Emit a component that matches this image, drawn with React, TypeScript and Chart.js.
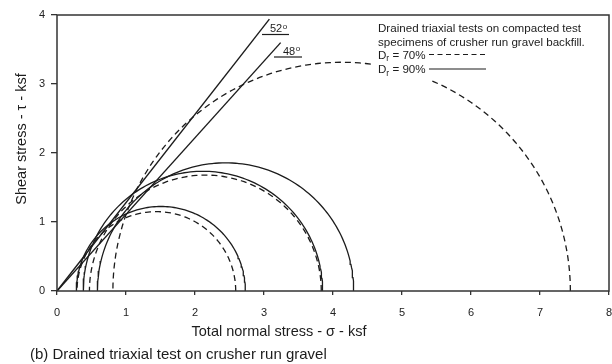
import React, { useEffect, useRef } from "react";
import { Chart, registerables } from "chart.js";
Chart.register(...registerables);

// ---- data ----
const xTickValues = [0, 1, 2, 3, 4, 5, 6, 7, 8];
const yTickValues = [0, 1, 2, 3, 4];
// Mohr circles: minor (sigma3) and major (sigma1) principal stresses, ksf
const dr70Sigma3 = [0.29, 0.47, 0.81];
const dr70Sigma1 = [2.59, 3.83, 7.44];
const dr90Sigma3 = [0.28, 0.38, 0.585];
const dr90Sigma1 = [2.73, 3.85, 4.3];
// failure envelopes (through origin): friction angle and tau at line end
const envelopeAngles = [52, 48];
const envelopeEndTau = [3.94, 3.6];
const angleLabels = ["52", "48"];
const noteLines = [
  "Drained triaxial tests on compacted test",
  "specimens of crusher run gravel backfill.",
];
const legendValues = ["70%", "90%"];
const xTitle = "Total normal stress - σ - ksf";
const yTitle = "Shear stress - τ - ksf";
const caption = "(b) Drained triaxial test on crusher run gravel";

const FONT = '"Liberation Sans", Arial, Helvetica, sans-serif';
const INK = "#1c1c1c";

function semicircle(s3: number, s1: number) {
  const c = (s1 + s3) / 2;
  const r = (s1 - s3) / 2;
  const pts: { x: number; y: number }[] = [];
  const n = 120;
  for (let i = 0; i <= n; i++) {
    const t = (Math.PI * i) / n;
    pts.push({ x: c + r * Math.cos(t), y: r * Math.sin(t) });
  }
  return pts;
}

const annotPlugin = {
  id: "annot",
  afterDraw(chart: any) {
    const { ctx, chartArea: a } = chart;
    ctx.save();
    // white box behind the note (interrupts the large circle)
    ctx.fillStyle = "#fff";
    ctx.fillRect(373, 18, 228, 62);

    // frame
    ctx.strokeStyle = "#333";
    ctx.lineWidth = 1.5;
    ctx.strokeRect(a.left, a.top, a.right - a.left, a.bottom - a.top);

    ctx.fillStyle = INK;
    ctx.strokeStyle = INK;
    ctx.lineWidth = 1.2;
    ctx.textBaseline = "alphabetic";

    // angle labels
    const angPos = [
      { x: 270, y: 32, ux0: 262, ux1: 289, uy: 34.5 },
      { x: 283, y: 54.5, ux0: 274, ux1: 302, uy: 57 },
    ];
    angleLabels.forEach((lab, i) => {
      const p = angPos[i];
      ctx.font = `11px ${FONT}`;
      ctx.textAlign = "left";
      ctx.fillText(lab, p.x, p.y);
      const w = ctx.measureText(lab).width;
      ctx.font = `8px ${FONT}`;
      ctx.fillText("o", p.x + w + 0.5, p.y - 3.5);
      ctx.beginPath();
      ctx.moveTo(p.ux0, p.uy);
      ctx.lineTo(p.ux1, p.uy);
      ctx.stroke();
    });

    // note
    ctx.font = `11.6px ${FONT}`;
    ctx.textAlign = "left";
    ctx.fillText(noteLines[0], 378, 31.5);
    ctx.fillText(noteLines[1], 378, 45.5);
    const legY = [58.5, 73];
    const lineY = [54.5, 69];
    legendValues.forEach((v, i) => {
      ctx.font = `11.6px ${FONT}`;
      ctx.fillText("D", 378, legY[i]);
      const wd = ctx.measureText("D").width;
      ctx.font = `8.5px ${FONT}`;
      ctx.fillText("r", 378 + wd, legY[i] + 2.5);
      const wr = ctx.measureText("r").width;
      ctx.font = `11.6px ${FONT}`;
      ctx.fillText(" = " + v, 378 + wd + wr, legY[i]);
      ctx.beginPath();
      ctx.lineWidth = 1.2;
      ctx.setLineDash(i === 0 ? [5, 3.5] : []);
      ctx.moveTo(429, lineY[i]);
      ctx.lineTo(486, lineY[i]);
      ctx.stroke();
      ctx.setLineDash([]);
    });

    // axis titles
    ctx.font = `14.5px ${FONT}`;
    ctx.textAlign = "center";
    ctx.textBaseline = "middle";
    ctx.fillText(xTitle, 279, 332);
    ctx.save();
    ctx.translate(22, 139);
    ctx.rotate(-Math.PI / 2);
    ctx.fillText(yTitle, 0, 0);
    ctx.restore();

    // caption
    ctx.font = `15px ${FONT}`;
    ctx.textAlign = "left";
    ctx.fillText(caption, 30, 355);
    ctx.restore();
  },
};

export default function App() {
  const ref = useRef<HTMLCanvasElement | null>(null);
  useEffect(() => {
    if (!ref.current) return;
    const datasets: any[] = [];
    dr70Sigma3.forEach((s3, i) => {
      datasets.push({
        label: "Dr = 70%",
        data: semicircle(s3, dr70Sigma1[i]),
        showLine: true,
        borderColor: INK,
        borderWidth: 1.3,
        borderDash: [6, 4],
        pointRadius: 0,
        fill: false,
      });
    });
    dr90Sigma3.forEach((s3, i) => {
      datasets.push({
        label: "Dr = 90%",
        data: semicircle(s3, dr90Sigma1[i]),
        showLine: true,
        borderColor: INK,
        borderWidth: 1.3,
        pointRadius: 0,
        fill: false,
      });
    });
    envelopeAngles.forEach((ang, i) => {
      const tau = envelopeEndTau[i];
      datasets.push({
        label: ang + "°",
        data: [
          { x: 0, y: 0 },
          { x: tau / Math.tan((ang * Math.PI) / 180), y: tau },
        ],
        showLine: true,
        borderColor: INK,
        borderWidth: 1.4,
        pointRadius: 0,
        fill: false,
      });
    });

    const chart = new Chart(ref.current, {
      type: "scatter",
      data: { datasets },
      options: {
        animation: false,
        responsive: true,
        maintainAspectRatio: false,
        layout: { padding: { left: 0, top: 15, right: 3, bottom: 0 } },
        plugins: {
          legend: { display: false },
          tooltip: { enabled: false },
        },
        scales: {
          x: {
            type: "linear",
            min: 0,
            max: 8,
            afterFit: (s: any) => {
              s.height = 73;
              s.paddingLeft = 0;
              s.paddingRight = 0;
            },
            afterBuildTicks: (s: any) => {
              s.ticks = xTickValues.map((v) => ({ value: v }));
            },
            border: { display: false },
            grid: {
              drawOnChartArea: false,
              drawTicks: true,
              tickLength: 4,
              color: "#333",
              lineWidth: 1.3,
            },
            ticks: {
              color: "#222",
              font: { size: 11, family: FONT },
              padding: 11,
              maxRotation: 0,
            },
          },
          y: {
            type: "linear",
            min: 0,
            max: 4,
            afterFit: (s: any) => {
              s.width = 57;
              s.paddingTop = 0;
              s.paddingBottom = 0;
            },
            afterBuildTicks: (s: any) => {
              s.ticks = yTickValues.map((v) => ({ value: v }));
            },
            border: { display: false },
            grid: {
              drawOnChartArea: false,
              drawTicks: true,
              tickLength: 6,
              color: "#333",
              lineWidth: 1.3,
            },
            ticks: {
              color: "#222",
              font: { size: 11, family: FONT },
              padding: 6,
            },
          },
        },
      },
      plugins: [annotPlugin],
    } as any);
    return () => chart.destroy();
  }, []);

  return (
    <div
      style={{
        position: "fixed",
        left: 0,
        top: 0,
        width: 612,
        height: 364,
        background: "#fff",
      }}
    >
      <canvas ref={ref} />
    </div>
  );
}
